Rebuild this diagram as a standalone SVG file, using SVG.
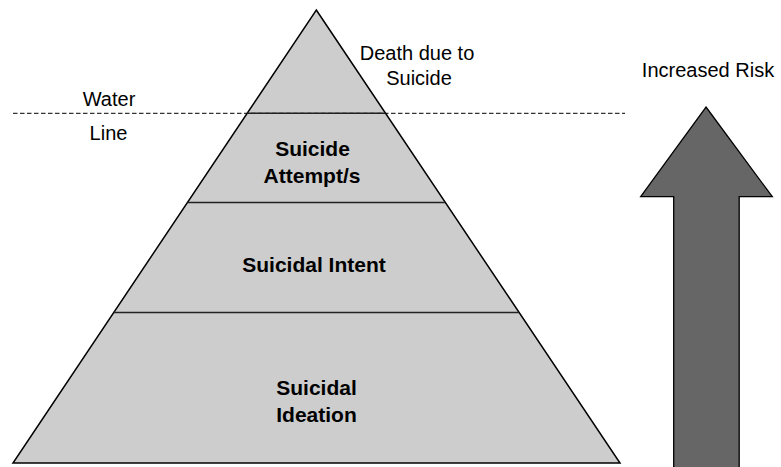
<svg xmlns="http://www.w3.org/2000/svg" width="781" height="467" viewBox="0 0 781 467">
<style>
text{font-family:"Liberation Sans",Arial,sans-serif;fill:#000;text-anchor:middle}
.r{font-size:20px}
.b{font-size:21px;font-weight:bold}
.sec{stroke:#222;stroke-width:1.5;fill:none}
</style>
<rect width="781" height="467" fill="#fff"/>
<g id="pyramid">
<polygon points="316.3,10 620,463 13,463" fill="#cdcdcd" stroke="#000" stroke-width="1.5" stroke-linejoin="miter"/>
</g>
<g id="connectors">
<line x1="13" y1="113.3" x2="625" y2="113.3" stroke="#000" stroke-width="1" stroke-dasharray="4.5,2.5"/>
<line class="sec" x1="247" y1="113.3" x2="385.6" y2="113.3"/>
<line class="sec" x1="187.5" y1="202.6" x2="445.1" y2="202.6"/>
<line class="sec" x1="114" y1="312.6" x2="518.6" y2="312.6"/>
</g>
<g id="death"><text class="r" x="417" y="60">Death due to</text><text class="r" x="419" y="85">Suicide</text></g>
<g id="water"><text class="r" x="109" y="106">Water</text><text class="r" x="108.5" y="140">Line</text></g>
<g id="attempt"><text class="b" x="312.5" y="156">Suicide</text><text class="b" x="312" y="183">Attempt/s</text></g>
<g id="intent"><text class="b" x="314" y="272">Suicidal Intent</text></g>
<g id="ideation"><text class="b" x="316.5" y="395">Suicidal</text><text class="b" x="316.5" y="421.5">Ideation</text></g>
<g id="risk"><text class="r" x="708" y="77">Increased Risk</text>
<polygon points="706,107 772.3,196.7 739.2,196.7 739.2,470 673.7,470 673.7,196.7 640.7,196.7" fill="#666" stroke="#000" stroke-width="1.3"/></g>
</svg>
